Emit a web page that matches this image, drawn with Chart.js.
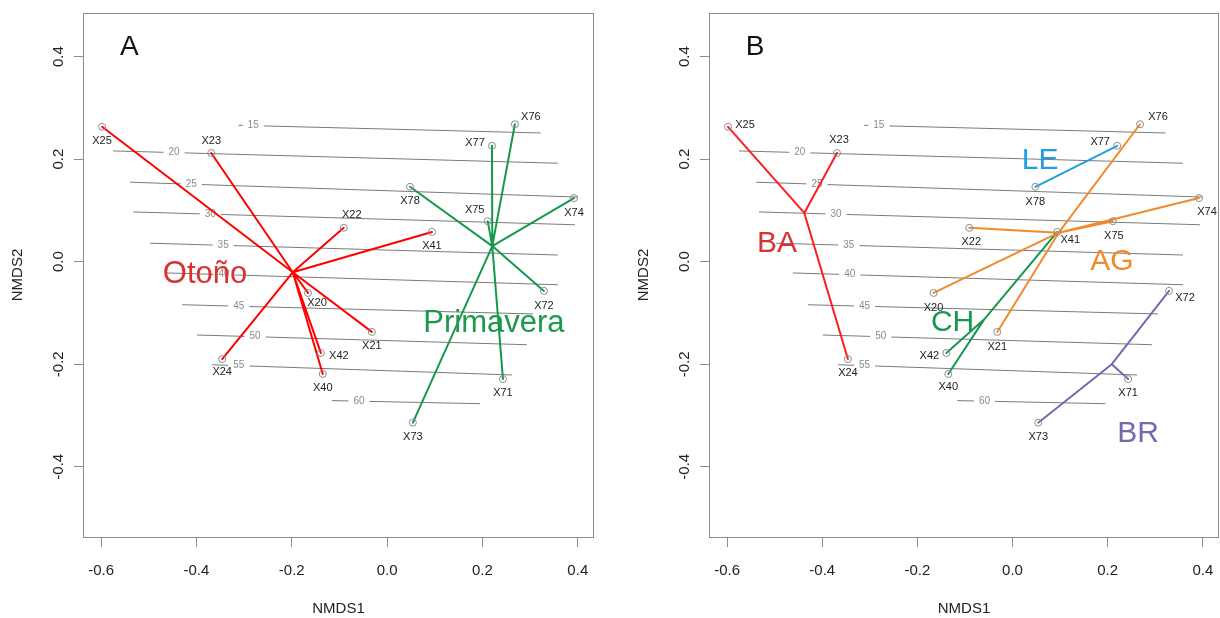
<!DOCTYPE html>
<html>
<head>
<meta charset="utf-8">
<script src="https://cdn.jsdelivr.net/npm/chart.js@4.4.0/dist/chart.umd.min.js"></script>
<style>
body { margin:0; background:#fff; overflow:hidden; }
canvas { position:absolute; top:0; }
#chartA { left:0; }
#chartB { left:626px; }
</style>
</head>
<body>
<canvas id="chartA" width="610" height="618"></canvas>
<canvas id="chartB" width="610" height="618"></canvas>
<script>
// site scores (NMDS1, NMDS2)
var siteNames = ['X25','X23','X22','X41','X20','X21','X42','X40','X24','X76','X77','X78','X74','X75','X72','X71','X73'];
var nmds1 = [-0.598,-0.369,-0.091,0.094,-0.166,-0.032,-0.139,-0.135,-0.346,0.268,0.220,0.048,0.392,0.211,0.329,0.243,0.054];
var nmds2 = [0.263,0.212,0.066,0.058,-0.061,-0.137,-0.178,-0.219,-0.190,0.268,0.226,0.146,0.124,0.079,-0.057,-0.229,-0.314];
var season = ['Otoño','Otoño','Otoño','Otoño','Otoño','Otoño','Otoño','Otoño','Otoño',
	'Primavera','Primavera','Primavera','Primavera','Primavera','Primavera','Primavera','Primavera'];
var habitat = ['BA','BA','AG','CH','AG','AG','CH','CH','BA','AG','LE','LE','AG','AG','BR','BR','BR'];

var seasonNames = ['Otoño','Primavera'];
var habitatNames = ['BA','LE','AG','CH','BR'];

// fitted surface contours
var contourLevels = [15,20,25,30,35,40,45,50,55,60];
var contourStartX = [-0.312,-0.575,-0.539,-0.533,-0.497,-0.462,-0.430,-0.399,-0.367,-0.116];
var contourStartY = [0.266,0.216,0.155,0.097,0.036,-0.022,-0.084,-0.143,-0.201,-0.271];
var contourEndX = [0.322,0.358,0.400,0.394,0.358,0.358,0.306,0.293,0.262,0.195];
var contourEndY = [0.251,0.192,0.126,0.072,0.013,-0.045,-0.102,-0.162,-0.221,-0.277];
var contourLabelX = [-0.281,-0.447,-0.411,-0.371,-0.344,-0.342,-0.311,-0.277,-0.311,-0.059];

var xTicks = [-0.6,-0.4,-0.2,0.0,0.2,0.4];
var yTicks = [-0.4,-0.2,0.0,0.2,0.4];

// layout / style, kept apart from the values
var seasonLabelX = [-0.382,0.224];
var seasonLabelY = [-0.024,-0.121];
var habitatLabelX = [-0.495,0.058,0.209,-0.126,0.264];
var habitatLabelY = [0.035,0.196,-0.001,-0.119,-0.336];
var seasonLine = ['#ff0000','#16984c'];
var seasonText = ['#d83232','#1c9a4c'];
var habitatLine = ['#ff1c1c','#1f9ee0','#f08a2a','#16984c','#7468b0'];
var habitatText = ['#d83232','#1f9ee0','#f08a2a','#16984c','#7468b0'];
var labelOffA = [[0,14],[0,-12],[8,-13],[0,14],[9,10],[0,14],[18,3],[0,14],[0,13],[16,-7],[-17,-3],[0,14],[0,15],[-13,-11],[0,15],[0,14],[0,14]];
var labelOffB = [[17,-2],[2,-13],[2,14],[13,8],[0,15],[0,15],[-17,3],[0,13],[0,14],[18,-7],[-17,-4],[0,15],[8,14],[1,15],[16,7],[0,14],[0,14]];

var FONT = '"Liberation Sans", Arial, sans-serif';
Chart.defaults.font.family = FONT;

function spider(groupOf, name) {
	var idx = [];
	for (var i = 0; i < groupOf.length; i++) if (groupOf[i] === name) idx.push(i);
	var cx = 0, cy = 0;
	idx.forEach(function(i) { cx += nmds1[i]; cy += nmds2[i]; });
	cx /= idx.length; cy /= idx.length;
	var pts = [];
	idx.forEach(function(i) {
		pts.push({x:cx, y:cy});
		pts.push({x:nmds1[i], y:nmds2[i]});
	});
	pts.push({x:cx, y:cy});
	return pts;
}

function buildPanel(id, groupOf, groups, lineCols, textCols, lx, ly, fontSize, offsets, letter, padRight) {
	var datasets = [];

	datasets.push({
		data: siteNames.map(function(n, i) { return {x:nmds1[i], y:nmds2[i]}; }),
		pointRadius: 3.5, pointBorderWidth: 1,
		pointBorderColor: '#8c8c8c', pointBackgroundColor: 'rgba(0,0,0,0)',
		showLine: false, order: 1
	});

	groups.forEach(function(g, k) {
		datasets.push({
			data: spider(groupOf, g),
			showLine: true, borderColor: lineCols[k], borderWidth: 2,
			borderJoinStyle: 'round', pointRadius: 0, order: 2
		});
	});

	contourLevels.forEach(function(lv, k) {
		datasets.push({
			contourIdx: k,
			data: [{x:contourStartX[k], y:contourStartY[k]}, {x:contourEndX[k], y:contourEndY[k]}],
			showLine: true, borderColor: '#7a7a7a', borderWidth: 1, pointRadius: 0, order: 3
		});
	});

	var overlay = {
		id: 'overlay',
		afterDatasetDraw: function(chart, args) {
			var ds = chart.data.datasets[args.index];
			if (ds.contourIdx === undefined) return;
			var k = ds.contourIdx;
			var xs = chart.scales.x, ys = chart.scales.y;
			var t = (contourLabelX[k] - contourStartX[k]) / (contourEndX[k] - contourStartX[k]);
			var yv = contourStartY[k] + t * (contourEndY[k] - contourStartY[k]);
			var px = xs.getPixelForValue(contourLabelX[k]);
			var py = ys.getPixelForValue(yv);
			var ctx = chart.ctx;
			var txt = String(contourLevels[k]);
			ctx.save();
			ctx.font = '10px ' + FONT;
			var w = ctx.measureText(txt).width;
			ctx.fillStyle = '#fff';
			ctx.fillRect(px - w / 2 - 5, py - 3, w + 10, 6);
			ctx.fillStyle = '#8a8a8a';
			ctx.textAlign = 'center';
			ctx.textBaseline = 'middle';
			ctx.fillText(txt, px, py);
			ctx.restore();
		},
		afterDraw: function(chart) {
			var ctx = chart.ctx, a = chart.chartArea;
			var xs = chart.scales.x, ys = chart.scales.y;
			ctx.save();
			ctx.strokeStyle = '#8c8c8c';
			ctx.lineWidth = 1;
			ctx.strokeRect(Math.round(a.left) + 0.5, Math.round(a.top) + 0.5,
				Math.round(a.right - a.left) - 1, Math.round(a.bottom - a.top));

			ctx.font = '11px ' + FONT;
			ctx.fillStyle = '#222';
			ctx.textAlign = 'center';
			ctx.textBaseline = 'middle';
			siteNames.forEach(function(n, i) {
				ctx.fillText(n, xs.getPixelForValue(nmds1[i]) + offsets[i][0],
					ys.getPixelForValue(nmds2[i]) + offsets[i][1]);
			});

			ctx.font = fontSize + 'px ' + FONT;
			groups.forEach(function(g, k) {
				ctx.fillStyle = textCols[k];
				ctx.fillText(g, xs.getPixelForValue(lx[k]), ys.getPixelForValue(ly[k]));
			});

			ctx.font = '28px ' + FONT;
			ctx.fillStyle = '#111';
			ctx.fillText(letter, xs.getPixelForValue(-0.541), ys.getPixelForValue(0.419));
			ctx.restore();
		}
	};

	return new Chart(document.getElementById(id), {
		type: 'scatter',
		data: { datasets: datasets },
		options: {
			responsive: false,
			animation: false,
			events: [],
			layout: { padding: { left: 0, right: padRight, top: 13, bottom: 0 } },
			plugins: { legend: { display: false }, tooltip: { enabled: false } },
			scales: {
				x: {
					type: 'linear', min: -0.638, max: 0.434,
					afterBuildTicks: function(s) { s.ticks = xTicks.map(function(v) { return {value:v}; }); },
					afterFit: function(s) { s.height = 81; },
					grid: { display: true, drawOnChartArea: false, drawTicks: true, tickLength: 10, tickColor: '#8c8c8c' },
					border: { display: false },
					ticks: { autoSkip: false, maxRotation: 0, minRotation: 0, padding: 15, color: '#222',
						font: { size: 15 }, callback: function(v) { return Number(v).toFixed(1); } },
					title: { display: true, text: 'NMDS1', color: '#222', font: { size: 15 }, padding: { top: 0, bottom: 0 } }
				},
				y: {
					type: 'linear', min: -0.537, max: 0.485,
					afterBuildTicks: function(s) { s.ticks = yTicks.map(function(v) { return {value:v}; }); },
					afterFit: function(s) { s.width = 83; },
					grid: { display: true, drawOnChartArea: false, drawTicks: true, tickLength: 9, tickColor: '#8c8c8c' },
					border: { display: false },
					ticks: { autoSkip: false, minRotation: 90, maxRotation: 90, crossAlign: 'center', padding: 2,
						color: '#222', font: { size: 15 }, callback: function(v) { return Number(v).toFixed(1); } },
					title: { display: true, text: 'NMDS2', color: '#222', font: { size: 15 }, padding: { top: 9, bottom: 0 } }
				}
			}
		},
		plugins: [overlay]
	});
}

buildPanel('chartA', season, seasonNames, seasonLine, seasonText, seasonLabelX, seasonLabelY, 31, labelOffA, 'A', 16);
buildPanel('chartB', habitat, habitatNames, habitatLine, habitatText, habitatLabelX, habitatLabelY, 30, labelOffB, 'B', 17);
</script>
</body>
</html>
